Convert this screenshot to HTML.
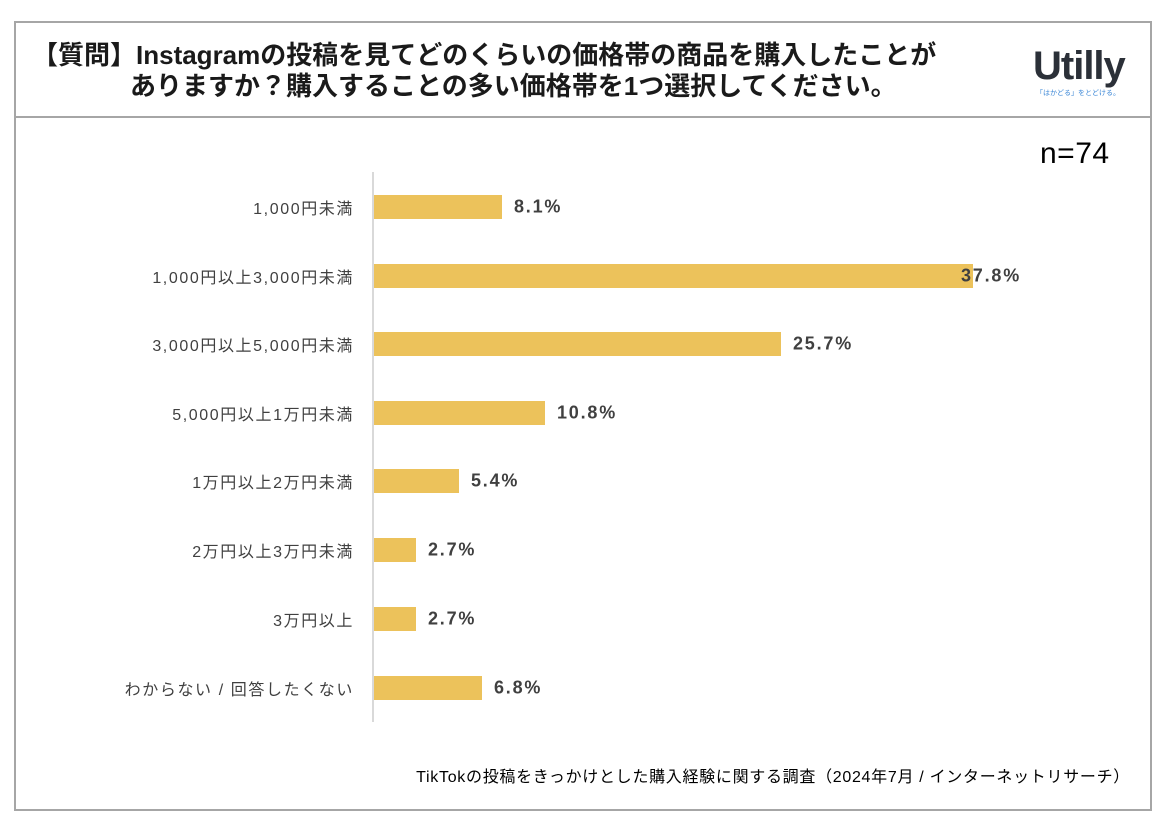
<!DOCTYPE html>
<html><head><meta charset="utf-8"><style>
body{margin:0;width:1170px;height:826px;background:#fff;position:relative;font-family:"Liberation Sans","Noto Sans CJK JP",sans-serif;overflow:hidden}
.box{position:absolute;left:14px;top:21px;width:1134px;height:786px;border:2px solid #a6a6a6}
.sep{position:absolute;left:14px;top:116px;width:1138px;height:2px;background:#a6a6a6}
.t{position:absolute;font-weight:bold;font-size:26px;color:#1a1a1a;line-height:31px;white-space:nowrap}
.lab{position:absolute;right:816px;font-size:16px;letter-spacing:1.6px;color:#404040;white-space:nowrap;transform:translateY(-50%)}
.bar{position:absolute;left:374px;height:24px;background:#ecc25b;transform:translateY(-50%)}
.val{position:absolute;font-size:18px;letter-spacing:1.8px;font-weight:bold;color:#404040;transform:translateY(-50%)}
</style></head><body>
<div class="box"></div><div class="sep"></div>
<div class="t" style="left:32px;top:40px">【質問】Instagramの投稿を見てどのくらいの価格帯の商品を購入したことが</div>
<div class="t" style="left:130px;top:71px">ありますか？購入することの多い価格帯を1つ選択してください。</div>
<div style="position:absolute;left:1033px;top:44px;font-size:40px;font-weight:bold;color:#2b3038;letter-spacing:-1px">Utilly</div>
<div style="position:absolute;left:1036px;top:88px;font-size:7px;color:#3a86d6">「はかどる」をとどける。</div>
<div style="position:absolute;left:1040px;top:137px;font-size:30px;letter-spacing:0.5px;color:#000">n=74</div>
<div style="position:absolute;left:372px;top:172px;width:2px;height:550px;background:#d9d9d9"></div>
<div class="lab" style="top:207px">1,000円未満</div><div class="bar" style="top:207px;width:128px"></div><div class="val" style="top:207px;left:514px">8.1%</div>
<div class="lab" style="top:276px">1,000円以上3,000円未満</div><div class="bar" style="top:276px;width:599px"></div><div class="val" style="top:276px;left:961px">37.8%</div>
<div class="lab" style="top:344px">3,000円以上5,000円未満</div><div class="bar" style="top:344px;width:407px"></div><div class="val" style="top:344px;left:793px">25.7%</div>
<div class="lab" style="top:413px">5,000円以上1万円未満</div><div class="bar" style="top:413px;width:171px"></div><div class="val" style="top:413px;left:557px">10.8%</div>
<div class="lab" style="top:481px">1万円以上2万円未満</div><div class="bar" style="top:481px;width:85px"></div><div class="val" style="top:481px;left:471px">5.4%</div>
<div class="lab" style="top:550px">2万円以上3万円未満</div><div class="bar" style="top:550px;width:42px"></div><div class="val" style="top:550px;left:428px">2.7%</div>
<div class="lab" style="top:619px">3万円以上</div><div class="bar" style="top:619px;width:42px"></div><div class="val" style="top:619px;left:428px">2.7%</div>
<div class="lab" style="top:688px">わからない / 回答したくない</div><div class="bar" style="top:688px;width:108px"></div><div class="val" style="top:688px;left:494px">6.8%</div>
<div style="position:absolute;right:40px;top:763px;font-size:16px;letter-spacing:0.7px;color:#000;white-space:nowrap">TikTokの投稿をきっかけとした購入経験に関する調査（2024年7月 / インターネットリサーチ）</div>
</body></html>
